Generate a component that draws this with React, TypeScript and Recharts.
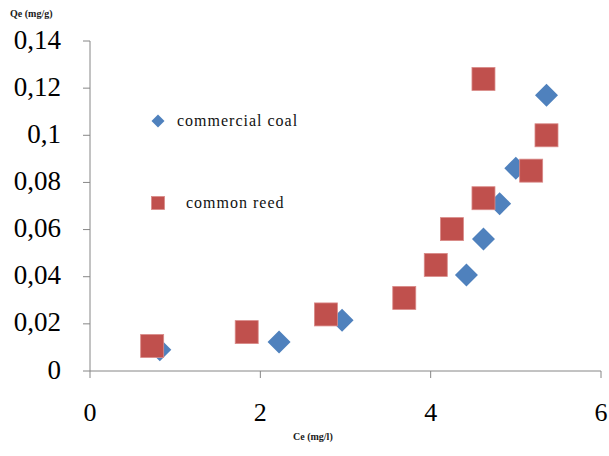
import { Scatter, ScatterChart, XAxis, YAxis } from "recharts";

// Ce (mg/l) vs Qe (mg/g)
const coalCe = [0.82, 2.22, 2.96, 4.42, 4.62, 4.81, 5.0, 5.36];
const coalQe = [0.009, 0.0123, 0.0215, 0.0407, 0.056, 0.071, 0.086, 0.117];
const reedCe = [0.73, 1.84, 2.77, 3.69, 4.06, 4.25, 4.62, 4.62, 5.18, 5.36];
const reedQe = [0.0106, 0.0165, 0.024, 0.031, 0.045, 0.0602, 0.0733, 0.1239, 0.085, 0.1];
const xTicks = [0, 2, 4, 6];
const yTicks = [0, 0.02, 0.04, 0.06, 0.08, 0.1, 0.12, 0.14];

const BLUE = "#4F81BD";
const RED = "#C0504D";
const AXIS = "#868686";
const SERIF = "'Liberation Serif', 'Times New Roman', serif";

const coal = coalCe.map((x, i) => ({ x, y: coalQe[i] }));
const reed = reedCe.map((x, i) => ({ x, y: reedQe[i] }));

const comma = (v: number) => String(v).replace(".", ",");

function Diamond({ cx, cy, size = 23 }: any) {
  const h = size / 2;
  return (
    <polygon
      points={`${cx},${cy - h} ${cx + h},${cy} ${cx},${cy + h} ${cx - h},${cy}`}
      fill={BLUE}
    />
  );
}

function Square({ cx, cy, size = 23 }: any) {
  return (
    <rect
      x={cx - size / 2}
      y={cy - size / 2}
      width={size}
      height={size}
      fill={RED}
      stroke="#d98a88"
      strokeWidth={0.8}
    />
  );
}

export default function App() {
  return (
    <div
      style={{
        position: "absolute",
        left: 0,
        top: 0,
        width: 609,
        height: 456,
        background: "#fff",
        fontFamily: SERIF,
      }}
    >
      <ScatterChart
        width={609}
        height={456}
        margin={{ top: 41, right: 8, bottom: 25, left: 0 }}
      >
        <XAxis
          type="number"
          dataKey="x"
          domain={[0, 6]}
          ticks={xTicks}
          stroke={AXIS}
          tickSize={7}
          tickMargin={25}
          height={60}
          tick={{ fill: "#000", fontSize: 26, fontFamily: SERIF }}
        />
        <YAxis
          type="number"
          dataKey="y"
          domain={[0, 0.14]}
          ticks={yTicks}
          tickFormatter={comma}
          stroke={AXIS}
          tickSize={7}
          tickMargin={22}
          width={90}
          tick={{ fill: "#000", fontSize: 27, fontFamily: SERIF, dy: -2 }}
        />
        <Scatter
          data={coal}
          shape={(p: any) => <Diamond cx={p.cx} cy={p.cy} />}
          isAnimationActive={false}
        />
        <Scatter
          data={reed}
          shape={(p: any) => <Square cx={p.cx} cy={p.cy} />}
          isAnimationActive={false}
        />
      </ScatterChart>

      <div
        style={{
          position: "absolute",
          left: 10,
          top: 8,
          fontSize: 10,
          fontWeight: "bold",
          color: "#1a1a1a",
        }}
      >
        Qe (mg/g)
      </div>
      <div
        style={{
          position: "absolute",
          left: 293,
          top: 431,
          fontSize: 10,
          fontWeight: "bold",
          color: "#1a1a1a",
        }}
      >
        Ce (mg/l)
      </div>

      <div style={{ position: "absolute", left: 151, top: 112, display: "flex", alignItems: "center" }}>
        <svg width={14} height={14}>
          <Diamond cx={7} cy={7} size={13} />
        </svg>
        <span style={{ marginLeft: 12, fontSize: 16, letterSpacing: 1, color: "#111" }}>
          commercial coal
        </span>
      </div>
      <div style={{ position: "absolute", left: 151, top: 194, display: "flex", alignItems: "center" }}>
        <svg width={14} height={14}>
          <Square cx={7} cy={7} size={13} />
        </svg>
        <span style={{ marginLeft: 21, fontSize: 16, letterSpacing: 1, color: "#111" }}>
          common reed
        </span>
      </div>
    </div>
  );
}
